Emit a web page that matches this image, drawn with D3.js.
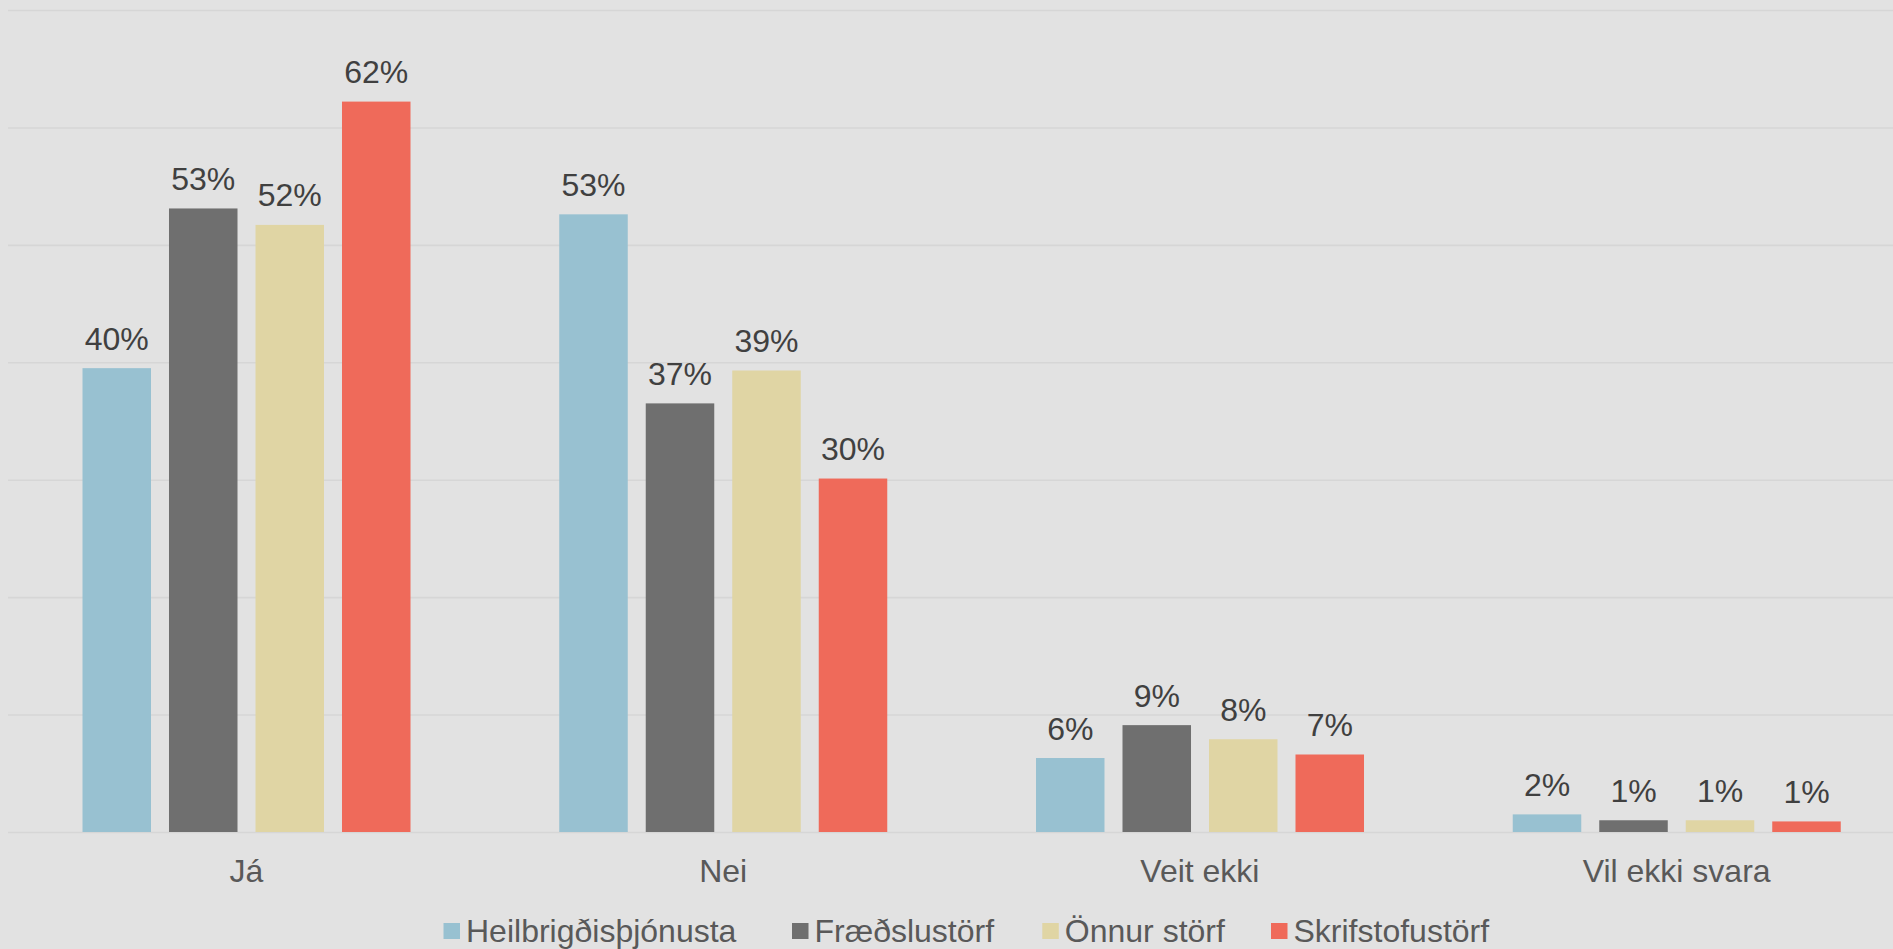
<!DOCTYPE html>
<html>
<head>
<meta charset="utf-8">
<script src="https://cdn.jsdelivr.net/npm/d3@7"></script>
<style>
  html, body { margin: 0; padding: 0; background: #e2e2e2; overflow: hidden; }
  svg { display: block; font-family: "Liberation Sans", Arial, sans-serif; }
</style>
</head>
<body>
<svg id="chart" width="1893" height="949"></svg>
<script>
const categories = ["Já", "Nei", "Veit ekki", "Vil ekki svara"];
const seriesNames = ["Heilbrigðisþjónusta", "Fræðslustörf", "Önnur störf", "Skrifstofustörf"];
const heilbrigdis = [39.5, 52.6, 6.3, 1.5];
const fraedslu = [53.1, 36.5, 9.1, 1.0];
const onnur = [51.7, 39.3, 7.9, 1.0];
const skrifstofu = [62.2, 30.1, 6.6, 0.9];
const yTicks = [0, 10, 20, 30, 40, 50, 60, 70];
const colors = ["#98c1d1", "#6f6f6f", "#e0d5a4", "#ef6a5a"];

const seriesValues = [heilbrigdis, fraedslu, onnur, skrifstofu];

const svg = d3.select("#chart");
const W = 1893, H = 949;
svg.append("rect").attr("width", W).attr("height", H).attr("fill", "#e2e2e2");

const mLeft = 8, mRight = 1915, mTop = 10, mBottom = 832;
const FS = "32px";

const x0 = d3.scaleBand().domain(categories).range([mLeft, mRight]).padding(0);
const x1 = d3.scaleBand().domain(seriesNames)
  .range([65.5, 411.5]).paddingInner(0.208).paddingOuter(0.104);
const y = d3.scaleLinear().domain([0, 70]).range([mBottom, mTop]);

// gridlines
const grid = svg.append("g").attr("transform", `translate(${mLeft},0)`)
  .call(d3.axisLeft(y).tickValues(yTicks).tickSize(-(mRight - mLeft)).tickFormat(""));
grid.select(".domain").remove();
grid.selectAll(".tick line").attr("stroke", "#d6d6d6").attr("stroke-width", 1.6);

// bars
const groups = svg.append("g").selectAll("g").data(categories).join("g")
  .attr("transform", d => `translate(${x0(d)},0)`);

groups.each(function(cat, ci) {
  const g = d3.select(this);
  seriesNames.forEach((s, si) => {
    const v = seriesValues[si][ci];
    g.append("rect")
      .attr("x", x1(s))
      .attr("y", y(v))
      .attr("width", x1.bandwidth())
      .attr("height", y(0) - y(v))
      .attr("fill", colors[si]);
    g.append("text")
      .attr("x", x1(s) + x1.bandwidth() / 2)
      .attr("y", y(v) - 18.5)
      .attr("text-anchor", "middle")
      .attr("font-size", FS)
      .attr("fill", "#404040")
      .text(Math.round(v) + "%");
  });
});

// category axis
const xAxis = svg.append("g").attr("transform", `translate(0,${mBottom})`)
  .call(d3.axisBottom(x0).tickSize(0));
xAxis.select(".domain").remove();
xAxis.selectAll("text")
  .attr("y", 49.5).attr("dy", 0)
  .attr("font-size", FS)
  .attr("font-family", "Liberation Sans, Arial, sans-serif")
  .attr("fill", "#595959");

// legend (layout positions of each entry)
const legendX = [443.5, 792, 1042.3, 1271];
const legend = svg.append("g");
const items = legend.selectAll("g").data(seriesNames).join("g")
  .attr("transform", (d, i) => `translate(${legendX[i]},0)`);
items.append("rect").attr("width", 16.5).attr("height", 16).attr("y", 923)
  .attr("fill", (d, i) => colors[i]);
items.append("text").attr("x", 22.5).attr("y", 941.5)
  .attr("font-size", FS).attr("fill", "#595959").text(d => d);
</script>
</body>
</html>
